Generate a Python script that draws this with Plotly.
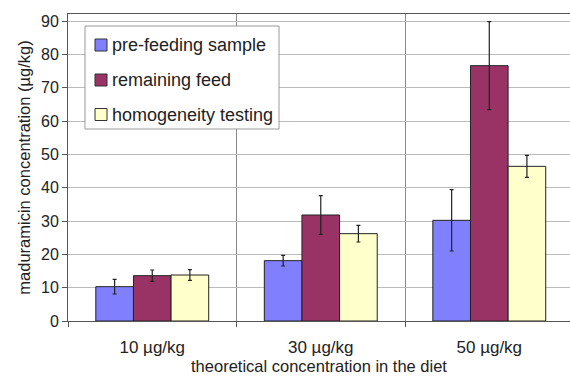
import plotly.graph_objects as go

categories = ["10 µg/kg", "30 µg/kg", "50 µg/kg"]
series_names = ["pre-feeding sample", "remaining feed", "homogeneity testing"]
pre_feeding = [10.3, 18.1, 30.2]
pre_feeding_err = [2.2, 1.6, 9.2]
remaining = [13.6, 31.8, 76.6]
remaining_err = [1.7, 5.8, 13.2]
homogeneity = [13.8, 26.2, 46.4]
homogeneity_err = [1.6, 2.5, 3.3]
y_ticks = [0, 10, 20, 30, 40, 50, 60, 70, 80, 90]

colors = ["#8080FF", "#993366", "#FFFFCC"]
values = [pre_feeding, remaining, homogeneity]
errors = [pre_feeding_err, remaining_err, homogeneity_err]

FONT = "Liberation Sans, Arial, sans-serif"
W, H = 570, 377
ML, MR, MT, MB = 68, 0, 14, 56
PW, PH = W - ML - MR, H - MT - MB


def px(x):
    return (x - ML) / PW


def py(y):
    return (H - MB - y) / PH


fig = go.Figure()
for i, (name, vals, errs, col) in enumerate(zip(series_names, values, errors, colors)):
    fig.add_trace(go.Bar(
        x=categories, y=vals, name=name,
        marker=dict(color=col, line=dict(color="#222", width=1)),
        error_y=dict(type="data", array=errs, visible=True,
                     color="#222", thickness=1.2, width=2),
        showlegend=False,
    ))

# custom legend (box, swatches, labels)
shapes = [dict(type="rect", xref="paper", yref="paper",
               x0=px(85), x1=px(279), y0=py(129), y1=py(26),
               line=dict(color="#999", width=1), fillcolor="white", layer="above")]
annotations = []
centers = [45, 80, 114.5]
for name, col, cy in zip(series_names, colors, centers):
    shapes.append(dict(type="rect", xref="paper", yref="paper",
                       x0=px(95), x1=px(107), y0=py(cy + 6), y1=py(cy - 6),
                       line=dict(color="#333", width=1), fillcolor=col, layer="above"))
    annotations.append(dict(xref="paper", yref="paper", x=px(110), y=py(cy),
                            xanchor="left", yanchor="middle", showarrow=False,
                            text=name, font=dict(size=18, color="#222", family=FONT)))

fig.update_layout(
    width=W, height=H,
    margin=dict(l=ML, r=MR, t=MT, b=MB),
    paper_bgcolor="white", plot_bgcolor="white",
    barmode="group", bargap=0.33, bargroupgap=0,
    font=dict(family=FONT, size=16, color="#222"),
    showlegend=False,
    shapes=shapes, annotations=annotations,
    xaxis=dict(
        type="category", range=[-0.5, 2.479],
        tickson="boundaries", showgrid=True, gridcolor="#888", gridwidth=1,
        showline=True, linecolor="#555", linewidth=1, mirror=True,
        ticks="outside", ticklen=5, tickcolor="#555",
        tickfont=dict(size=17), ticklabelstandoff=11,
        title=dict(text="theoretical concentration in the diet", font=dict(size=16.5), standoff=1),
    ),
    yaxis=dict(
        range=[0, 92.1], tickvals=y_ticks,
        showgrid=True, gridcolor="#bbb", gridwidth=1,
        showline=True, linecolor="#555", linewidth=1,
        ticks="outside", ticklen=5, tickcolor="#555",
        tickfont=dict(size=16), zeroline=False,
        title=dict(text="maduramicin concentration (µg/kg)", font=dict(size=16.5), standoff=6),
    ),
)

fig.write_html("out.html")
